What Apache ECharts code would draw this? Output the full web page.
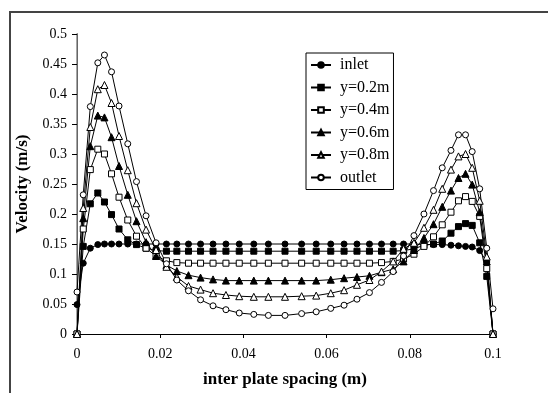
<!DOCTYPE html>
<html>
<head>
<meta charset="utf-8">
<script src="https://cdn.jsdelivr.net/npm/echarts@6.0.0/dist/echarts.min.js"></script>
<style>
  html, body { margin: 0; padding: 0; background: #fff; }
  #chart { width: 548px; height: 393px; }
</style>
</head>
<body>
<div id="chart"></div>
<script>
// positions across the gap between the plates (m)
var xs = [0, 0.0015, 0.0032, 0.005, 0.0066, 0.0083, 0.0101, 0.0122, 0.0143, 0.0166,
  0.019, 0.0215, 0.024, 0.0268, 0.0297, 0.0327, 0.0358, 0.039, 0.0425, 0.046,
  0.05, 0.054, 0.0575, 0.061, 0.0642, 0.0673, 0.0703, 0.0732, 0.076, 0.0785,
  0.081, 0.0834, 0.0857, 0.0878, 0.0899, 0.0917, 0.0934, 0.095, 0.0968, 0.0985, 0.1];

// velocity profiles (m/s)
var inlet = [0.049, 0.118, 0.143, 0.149, 0.15, 0.15, 0.15, 0.15, 0.15, 0.15,
  0.15, 0.15, 0.15, 0.15, 0.15, 0.15, 0.15, 0.15, 0.15, 0.15,
  0.15, 0.15, 0.15, 0.15, 0.15, 0.15, 0.15, 0.15, 0.15, 0.15,
  0.15, 0.149, 0.149, 0.149, 0.148, 0.147, 0.146, 0.145, 0.139, 0.12, 0];
var y02 = [0, 0.146, 0.217, 0.235, 0.22, 0.199, 0.175, 0.157, 0.149, 0.143,
  0.139, 0.138, 0.138, 0.138, 0.138, 0.138, 0.138, 0.138, 0.138, 0.138,
  0.138, 0.138, 0.138, 0.138, 0.138, 0.138, 0.138, 0.138, 0.138, 0.139,
  0.142, 0.148, 0.15, 0.155, 0.168, 0.179, 0.184, 0.181, 0.152, 0.096, 0];
var y04 = [0, 0.175, 0.274, 0.308, 0.3, 0.267, 0.228, 0.19, 0.163, 0.143,
  0.13, 0.122, 0.119, 0.118, 0.118, 0.118, 0.118, 0.118, 0.118, 0.118,
  0.118, 0.118, 0.118, 0.118, 0.118, 0.118, 0.118, 0.119, 0.121, 0.125,
  0.133, 0.146, 0.162, 0.182, 0.203, 0.222, 0.229, 0.221, 0.196, 0.109, 0];
var y06 = [0, 0.193, 0.313, 0.364, 0.361, 0.328, 0.28, 0.232, 0.188, 0.153,
  0.13, 0.115, 0.105, 0.098, 0.094, 0.091, 0.089, 0.089, 0.089, 0.089,
  0.089, 0.089, 0.089, 0.0905, 0.093, 0.095, 0.097, 0.103, 0.108, 0.121,
  0.14, 0.16, 0.183, 0.212, 0.239, 0.26, 0.267, 0.249, 0.203, 0.121, 0];
var y08 = [0, 0.21, 0.345, 0.408, 0.415, 0.385, 0.33, 0.273, 0.218, 0.174,
  0.14, 0.112, 0.095, 0.08, 0.074, 0.068, 0.065, 0.063, 0.062, 0.062,
  0.062, 0.063, 0.064, 0.068, 0.073, 0.082, 0.09, 0.104, 0.121, 0.142,
  0.152, 0.177, 0.207, 0.242, 0.274, 0.296, 0.3, 0.277, 0.222, 0.129, 0];
var outlet = [0.07, 0.232, 0.379, 0.452, 0.465, 0.437, 0.38, 0.317, 0.254, 0.197,
  0.152, 0.117, 0.09, 0.072, 0.057, 0.047, 0.0405, 0.035, 0.0327, 0.031,
  0.031, 0.034, 0.037, 0.0427, 0.048, 0.058, 0.069, 0.086, 0.104, 0.13,
  0.164, 0.2, 0.239, 0.277, 0.306, 0.332, 0.332, 0.304, 0.242, 0.143, 0.042];

var serif = '"Liberation Serif", "Times New Roman", serif';

document.addEventListener("DOMContentLoaded", function () {
    var chart = echarts.init(document.getElementById('chart'));

    // pair x positions with one profile
    function pts(vals) {
        return xs.map(function (x, i) { return [x, vals[i]]; });
    }

    // one line series; hollow markers get a white fill
    function line(name, vals, symbol, size, hollow) {
        return {
            name: name,
            type: 'line',
            data: pts(vals),
            symbol: symbol,
            symbolSize: size,
            showAllSymbol: true,
            lineStyle: { color: '#000', width: 1 },
            itemStyle: { color: hollow ? '#fff' : '#000', borderColor: '#000', borderWidth: 1 }
        };
    }

    var option = {
        animation: false,
        backgroundColor: '#fff',
        grid: { left: 77, top: 34, right: 55, bottom: 59 },
        graphic: [{
            type: 'rect',
            silent: true,
            shape: { x: 10, y: 12, width: 600, height: 500 },
            style: { fill: 'none', stroke: '#444', lineWidth: 2 }
        }],
        legend: {
            orient: 'vertical',
            left: 306,
            top: 53,
            padding: [4, 4, 4, 4],
            itemGap: 6.5,
            itemWidth: 20,
            itemHeight: 7,
            backgroundColor: '#fff',
            borderColor: '#000',
            borderWidth: 1,
            textStyle: { fontFamily: serif, fontSize: 16, lineHeight: 14, color: '#000', padding: [0, 0, 0, 4] },
            data: ['inlet', 'y=0.2m', 'y=0.4m', 'y=0.6m', 'y=0.8m', 'outlet']
        },
        xAxis: [{
            type: 'value',
            min: 0,
            max: 0.1,
            interval: 0.02,
            name: 'inter plate spacing (m)',
            nameLocation: 'middle',
            nameGap: 37,
            nameTextStyle: { fontFamily: serif, fontSize: 17, fontWeight: 'bold', color: '#000' },
            axisLine: { lineStyle: { color: '#000', width: 1 } },
            axisTick: { lineStyle: { color: '#000' }, length: 4 },
            axisLabel: { fontFamily: serif, fontSize: 14, color: '#000', margin: 13 },
            splitLine: { show: false }
        }, {
            type: 'value',
            position: 'top',
            min: 0,
            max: 0.1,
            axisLine: { lineStyle: { color: '#000', width: 1 } },
            axisTick: { show: false },
            axisLabel: { show: false },
            splitLine: { show: false }
        }],
        yAxis: [{
            type: 'value',
            min: 0,
            max: 0.5,
            interval: 0.05,
            name: 'Velocity (m/s)',
            nameLocation: 'middle',
            nameGap: 43,
            nameTextStyle: { fontFamily: serif, fontSize: 17, fontWeight: 'bold', color: '#000' },
            axisLine: { show: true, lineStyle: { color: '#000', width: 1 } },
            axisTick: { show: true, lineStyle: { color: '#000' }, length: 5 },
            axisLabel: { fontFamily: serif, fontSize: 14, color: '#000', margin: 10 },
            splitLine: { show: false }
        }, {
            type: 'value',
            position: 'right',
            min: 0,
            max: 0.5,
            axisLine: { show: true, lineStyle: { color: '#888', width: 1.5 } },
            axisTick: { show: false },
            axisLabel: { show: false },
            splitLine: { show: false }
        }],
        series: [
            line('inlet', inlet, 'circle', 6, false),
            line('y=0.2m', y02, 'rect', 6, false),
            line('y=0.4m', y04, 'rect', 6, true),
            line('y=0.6m', y06, 'triangle', 7, false),
            line('y=0.8m', y08, 'triangle', 7, true),
            line('outlet', outlet, 'circle', 6, true)
        ]
    };

    chart.setOption(option);
});
</script>
</body>
</html>
